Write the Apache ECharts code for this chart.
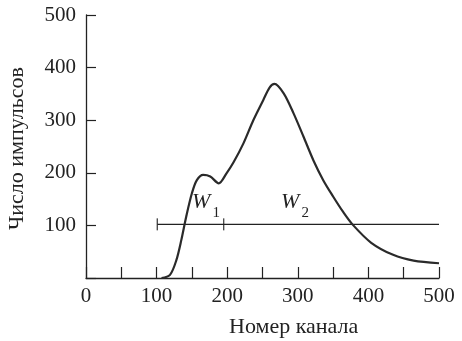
<!DOCTYPE html>
<html><head><meta charset="utf-8">
<script src="https://cdn.jsdelivr.net/npm/echarts@6/dist/echarts.min.js"></script>
<style>html,body{margin:0;padding:0;background:#fff}#c{width:462px;height:341px}</style>
</head><body><div id="c"></div>
<script>
var channels = [107,119,128,135,142,150,157,166,176,188,199,209,223,237,251,260,267,280,294,308,322,336,350,364,378,404,435,464,500];
var counts   = [0,6,34,72,117,161,186,196,193,180,199,220,256,300,338,362,369,351,313,269,224,186,155,126,101,67,44,33,28];
var windowLevel = 102;
var windowX = [101, 500];
var capX = [101, 195];
var labelNames = ['1', '2'];
var labelX = [170, 296];
var labelY = 137;
var xTicks = [0,100,200,300,400,500];
var yTicks = [100,200,300,400,500];

var FONT = 'Liberation Serif';
var INK = '#222';
var chart = echarts.init(document.getElementById('c'));
chart.setOption({
  animation: false,
  grid: {left: 86, right: 23, top: 15, bottom: 63},
  xAxis: {
    type: 'value', min: 0, max: 500, interval: 50,
    axisLine: {lineStyle: {color: INK, width: 1.3}},
    axisTick: {inside: true, length: 11, lineStyle: {color: INK, width: 1.2}},
    splitLine: {show: false},
    axisLabel: {color: INK, fontFamily: FONT, fontSize: 21, margin: 8,
      formatter: function(v){ return xTicks.indexOf(v) >= 0 ? String(v) : ''; }}
  },
  yAxis: {
    type: 'value', min: 0, max: 500, interval: 100,
    axisLine: {show: true, lineStyle: {color: INK, width: 1.3}},
    axisTick: {show: true, inside: true, length: 10, lineStyle: {color: INK, width: 1.2}},
    splitLine: {show: false},
    axisLabel: {color: INK, fontFamily: FONT, fontSize: 21, margin: 10,
      formatter: function(v){ return yTicks.indexOf(v) >= 0 ? String(v) : ''; }}
  },
  graphic: [
    {type: 'text', left: 229, top: 316, style: {text: 'Номер канала', fill: INK, fontFamily: FONT, fontSize: 22}},
    {type: 'text', x: 6, y: 230, rotation: Math.PI/2, style: {text: 'Число импульсов', fill: INK, fontFamily: FONT, fontSize: 22}}
  ],
  series: [
    {type: 'line', data: channels.map(function(c,i){return [c, counts[i]];}),
     smooth: 0.3, showSymbol: false, lineStyle: {color: '#2a2a2a', width: 2.2}, z: 3},
    {type: 'line', data: windowX.map(function(x){return [x, windowLevel];}),
     showSymbol: false, lineStyle: {color: INK, width: 1.3}, z: 2},
    {type: 'scatter', data: capX.map(function(x){return [x, windowLevel];}),
     symbol: 'rect', symbolSize: [1.4, 12], itemStyle: {color: INK}, z: 2},
    {type: 'scatter', data: labelX.map(function(x,i){return {value: [x, labelY], name: labelNames[i]};}),
     symbolSize: 0, itemStyle: {opacity: 1, color: INK},
     label: {show: true, position: 'inside', color: INK, opacity: 1,
       formatter: function(p){ return '{w|W}{s|' + p.name + '}'; },
       rich: {
         w: {fontFamily: FONT, fontStyle: 'italic', fontSize: 22, color: INK, verticalAlign: 'top'},
         s: {fontFamily: FONT, fontSize: 15, color: INK, padding: [14,0,0,2], verticalAlign: 'bottom'}
       }}, z: 4}
  ]
});
</script></body></html>
